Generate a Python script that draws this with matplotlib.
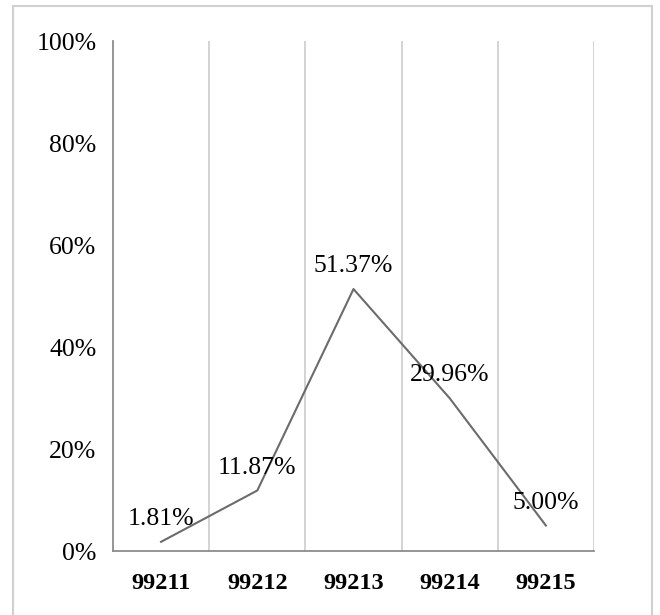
import matplotlib.pyplot as plt
from matplotlib.patches import Rectangle

codes = ["99211", "99212", "99213", "99214", "99215"]
shares = [1.81, 11.87, 51.37, 29.96, 5.00]
yticks = [0, 20, 40, 60, 80, 100]

plt.rcParams['font.family'] = ['Liberation Serif', 'DejaVu Serif']

fig = plt.figure(figsize=(6.6, 6.15), dpi=100)
ax = fig.add_axes([0.1712, 0.104, 0.7288, 0.8293])

# light frame around the chart area
fig.patches.append(Rectangle((13 / 660, -0.05), 639 / 660, 1 - 6 / 615 + 0.05,
                             transform=fig.transFigure, fill=False,
                             edgecolor="#d0d0d0", linewidth=1.5))

x = list(range(len(codes)))
ax.plot(x, shares, color="#6b6b6b", linewidth=1.5)

for xi, v in zip(x, shares):
    ax.annotate(f"{v:.2f}%", (xi, v), xytext=(0, 16.5), textcoords="offset points",
                ha="center", va="center", fontsize=18.5)

ax.set_xlim(-0.5, len(codes) - 0.5)
ax.set_ylim(0, 100)
ax.set_yticks(yticks)
ax.set_yticklabels([f"{t}%" for t in yticks], fontsize=18.5)
ax.set_xticks(x)
ax.set_xticklabels(codes, fontsize=17.5, fontweight="bold")

# vertical separators between categories
for b in [i + 0.5 for i in range(len(codes))]:
    ax.axvline(b, color="#d0d0d0", linewidth=1.3, zorder=0)

for s in ["top", "right"]:
    ax.spines[s].set_visible(False)
ax.spines["left"].set_color("#8c8c8c")
ax.spines["bottom"].set_color("#8c8c8c")
ax.spines["left"].set_linewidth(1.3)
ax.spines["bottom"].set_linewidth(1.3)
ax.tick_params(axis="x", length=0, pad=16)
ax.tick_params(axis="y", length=0, pad=12)

fig.savefig("out.png", dpi=100)
